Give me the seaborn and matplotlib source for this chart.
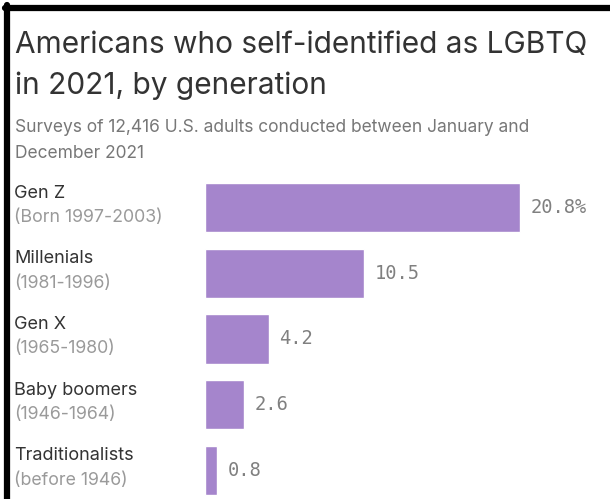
import matplotlib
matplotlib.use("Agg")
import matplotlib.pyplot as plt
import matplotlib.transforms as mtransforms
from matplotlib.lines import Line2D
import pandas as pd
import seaborn as sns

generations = ["Gen Z", "Millenials", "Gen X", "Baby boomers", "Traditionalists"]
years = ["(Born 1997-2003)", "(1981-1996)", "(1965-1980)", "(1946-1964)", "(before 1946)"]
shares = [20.8, 10.5, 4.2, 2.6, 0.8]
value_labels = ["20.8%", "10.5", "4.2", "2.6", "0.8"]

BAR_COLOR = "#a585cc"

sns.set_style("white")
plt.rcParams["font.family"] = ["Inter", "DejaVu Sans"]

df = pd.DataFrame({"generation": generations, "share": shares})

fig = plt.figure(figsize=(6.10, 4.99), dpi=100)
ax = fig.add_axes([205 / 610, 0, 1 - 205 / 610, 1 - 170 / 499])

sns.barplot(data=df, x="share", y="generation", color=BAR_COLOR, width=0.75,
            saturation=1, ax=ax)

ax.set_xlim(0, 26.75)
ax.set_ylim(4.437, -0.571)
ax.set_xlabel("")
ax.set_ylabel("")
ax.set_xticks([])
ax.set_yticks([])
sns.despine(ax=ax, left=True, bottom=True)

for i, (val, lab) in enumerate(zip(shares, value_labels)):
    ax.text(val + 0.7, i, lab, va="center", ha="left", fontsize=13.5,
            family="DejaVu Sans Mono", color="#808080")

trans = mtransforms.blended_transform_factory(fig.transFigure, ax.transData)
for i, (name, yr) in enumerate(zip(generations, years)):
    ax.text(14 / 610, i - 0.22, name, transform=trans, va="center", ha="left",
            fontsize=13, color="#333333")
    ax.text(14 / 610, i + 0.15, yr, transform=trans, va="center", ha="left",
            fontsize=12.8, color="#9a9a9a")

fig.text(15 / 610, 1 - 45 / 499, "Americans who self-identified as LGBTQ",
         fontsize=21.5, color="#333333", va="center", ha="left")
fig.text(15 / 610, 1 - 86 / 499, "in 2021, by generation",
         fontsize=21.5, color="#333333", va="center", ha="left")
fig.text(15 / 610, 1 - 128 / 499,
         "Surveys of 12,416 U.S. adults conducted between January and",
         fontsize=12.5, color="#777777", va="center", ha="left")
fig.text(15 / 610, 1 - 153 / 499, "December 2021",
         fontsize=12.5, color="#777777", va="center", ha="left")

# black frame on the left and top edges
fig.add_artist(Line2D([7 / 610, 7 / 610], [0, 1 - 5 / 499], color="black",
                      lw=4.5, transform=fig.transFigure))
fig.add_artist(Line2D([5 / 610, 1], [1 - 8 / 499, 1 - 8 / 499], color="black",
                      lw=4.5, transform=fig.transFigure))

fig.savefig("out.png", dpi=100)
